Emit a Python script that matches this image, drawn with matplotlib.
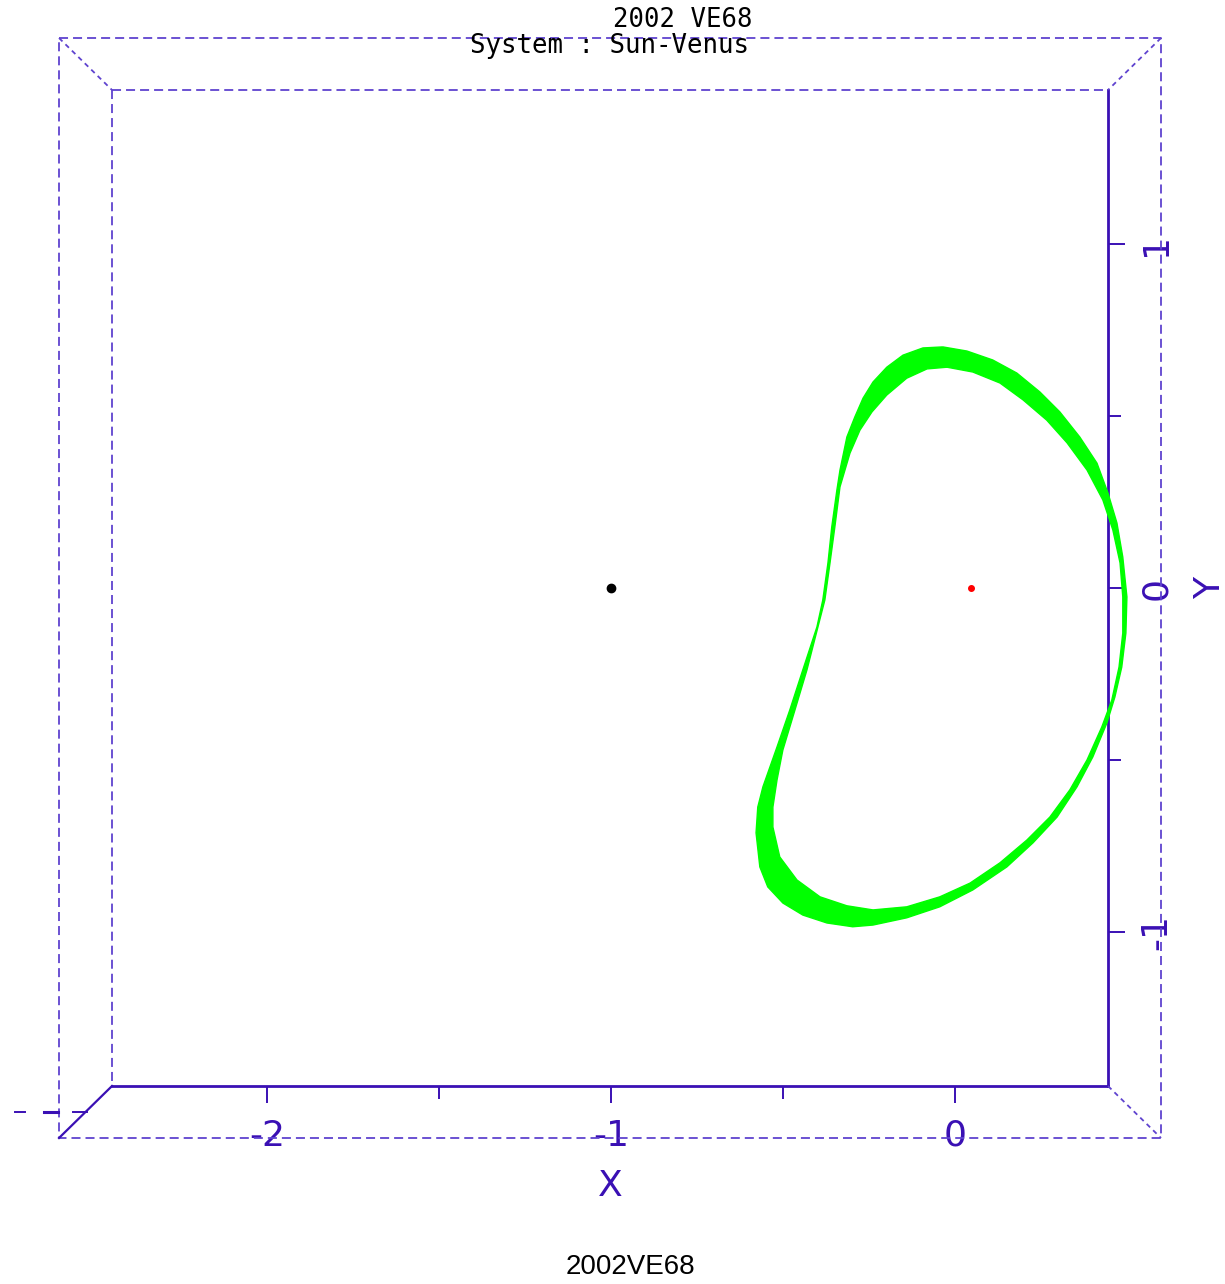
import numpy as np
import matplotlib
matplotlib.use("Agg")
import matplotlib.pyplot as plt
from matplotlib.path import Path
from matplotlib.patches import PathPatch

plt.rcParams.update({"font.family": ["Liberation Sans Narrow", "DejaVu Sans"],
                     "lines.scale_dashes": False})

W, H = 1225, 1284
AXC = "#3a10b4"
DASHC = "#5f43cf"
GREEN = "#00ff00"

# orbit band of 2002 VE68 in the rotating Sun-Venus frame (outer / inner edge)
outer_x = [-0.035, 0.035, 0.110, 0.180, 0.247, 0.305, 0.363, 0.413, 0.445, 0.471,
           0.488, 0.500, 0.497, 0.485, 0.465, 0.442, 0.401, 0.355, 0.297, 0.227,
           0.151, 0.052, -0.044, -0.140, -0.238, -0.297, -0.372, -0.442, -0.500, -0.544,
           -0.567, -0.578, -0.573, -0.558, -0.517, -0.480, -0.442, -0.401, -0.384, -0.369,
           -0.358, -0.343, -0.334, -0.314, -0.291, -0.267, -0.238, -0.198, -0.151, -0.093]
outer_y = [0.701, 0.689, 0.663, 0.625, 0.570, 0.512, 0.439, 0.363, 0.276, 0.189,
           0.090, -0.026, -0.131, -0.230, -0.317, -0.392, -0.491, -0.578, -0.666, -0.741,
           -0.811, -0.878, -0.927, -0.959, -0.980, -0.985, -0.974, -0.951, -0.916, -0.869,
           -0.811, -0.712, -0.637, -0.578, -0.462, -0.355, -0.238, -0.113, -0.035, 0.073,
           0.177, 0.285, 0.343, 0.439, 0.497, 0.552, 0.599, 0.642, 0.677, 0.698]
inner_x = [-0.023, 0.052, 0.131, 0.198, 0.267, 0.326, 0.384, 0.430, 0.459, 0.480,
           0.488, 0.488, 0.477, 0.456, 0.427, 0.384, 0.334, 0.276, 0.209, 0.131,
           0.044, -0.044, -0.140, -0.238, -0.314, -0.392, -0.459, -0.509, -0.529, -0.529,
           -0.517, -0.500, -0.465, -0.430, -0.398, -0.378, -0.363, -0.349, -0.334, -0.305,
           -0.276, -0.241, -0.198, -0.140, -0.081]
inner_y = [0.642, 0.628, 0.596, 0.547, 0.488, 0.422, 0.343, 0.256, 0.169, 0.073,
           -0.026, -0.131, -0.230, -0.326, -0.404, -0.500, -0.587, -0.666, -0.733, -0.799,
           -0.858, -0.898, -0.927, -0.936, -0.924, -0.898, -0.849, -0.782, -0.695, -0.637,
           -0.558, -0.471, -0.355, -0.238, -0.113, -0.035, 0.073, 0.177, 0.294, 0.392,
           0.459, 0.512, 0.561, 0.610, 0.637]

sun_xy = (-1.0, 0.0)
venus_xy = (0.047, 0.0)
xlim = (-2.45, 0.445)
ylim = (-1.448, 1.448)
xmajor, xminor = [-2, -1, 0], [-1.5, -0.5]
ymajor, yminor = [-1, 0, 1], [-0.5, 0.5]

fig = plt.figure(figsize=(W / 100, H / 100), dpi=100)
L, R, T, B = 112, 1108, 90, 1086
ax = fig.add_axes([L / W, 1 - B / H, (R - L) / W, (B - T) / H])
ax.patch.set_alpha(0)
ax.set_xlim(*xlim); ax.set_ylim(*ylim)

# band: outer loop plus reversed inner loop
ox = np.r_[outer_x, outer_x[0]]; oy = np.r_[outer_y, outer_y[0]]
ix = np.r_[inner_x, inner_x[0]][::-1]; iy = np.r_[inner_y, inner_y[0]][::-1]
verts = np.r_[np.c_[ox, oy], np.c_[ix, iy]]
codes = ([Path.MOVETO] + [Path.LINETO] * (len(ox) - 1)
         + [Path.MOVETO] + [Path.LINETO] * (len(ix) - 1))
ax.add_patch(PathPatch(Path(verts, codes), facecolor=GREEN, edgecolor=GREEN,
                       lw=1.0, clip_on=False, zorder=3))
ax.plot(*sun_xy, "o", color="black", ms=6)
ax.plot(*venus_xy, "o", color="red", ms=4)

for s in ("top", "left"):
    ax.spines[s].set_visible(False)
for s in ("bottom", "right"):
    ax.spines[s].set_color(AXC); ax.spines[s].set_linewidth(2)
ax.yaxis.tick_right()
ax.set_xticks(xmajor); ax.set_xticks(xminor, minor=True)
ax.set_yticks(ymajor); ax.set_yticks(yminor, minor=True)
ax.set_xticklabels([str(v) for v in xmajor]); ax.set_yticklabels([str(v) for v in ymajor])
ax.tick_params(which="major", direction="out", length=12.5, width=1.4, color=AXC,
               labelcolor=AXC, labelsize=26, pad=11)
ax.tick_params(which="minor", direction="out", length=9, width=1.4, color=AXC)
ax.tick_params(axis="y", labelrotation=90, pad=10)
for t in ax.get_yticklabels():
    t.set_va("center"); t.set_ha("left")
ax.set_xlabel("X", color=AXC, fontsize=26, labelpad=12)
ax.yaxis.set_label_position("right")
ax.set_ylabel("Y", color=AXC, fontsize=26, rotation=90, labelpad=14)

# box frame in pixel coords
ov = fig.add_axes([0, 0, 1, 1])
ov.set_xlim(0, W); ov.set_ylim(H, 0); ov.axis("off"); ov.patch.set_alpha(0)
dash = dict(color=DASHC, lw=1.3, dashes=(6.5, 3.6))
ov.plot([59, 1161, 1161, 59, 59], [38, 38, 1138, 1138, 38], **dash)
ov.plot([112, 1108], [90, 90], **dash)
ov.plot([112, 112], [90, 1086], **dash)
diag = dict(color=DASHC, lw=1.3, dashes=(3.5, 3))
ov.plot([59, 112], [38, 90], **diag)
ov.plot([1161, 1108], [38, 90], **diag)
ov.plot([1108, 1161], [1086, 1138], **diag)
ov.plot([112, 59], [1086, 1138], color=AXC, lw=1.6)
ov.plot([73, 87], [1112, 1112], color=AXC, lw=1.4)
ov.plot([44, 58], [1112, 1112], color=AXC, lw=2.2)
ov.plot([15, 25], [1112, 1112], color=AXC, lw=1.4)

fig.text(683 / W, 1 - 20 / H, "2002 VE68", ha="center", va="center",
         family="DejaVu Sans Mono", fontsize=18.5)
fig.text(610 / W, 1 - 46 / H, "System : Sun-Venus", ha="center", va="center",
         family="DejaVu Sans Mono", fontsize=18.5)
fig.text(630 / W, 1 - 1267 / H, "2002VE68", ha="center", va="center",
         family="Liberation Sans", fontsize=20)

fig.savefig("out.png", dpi=100)
